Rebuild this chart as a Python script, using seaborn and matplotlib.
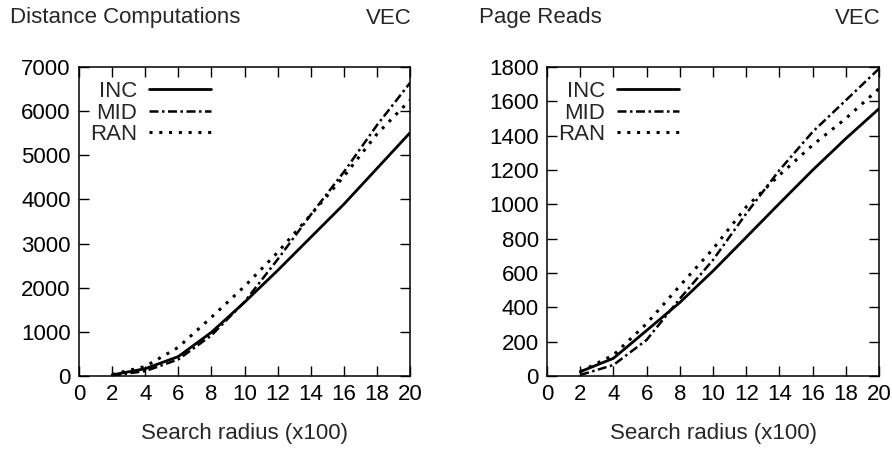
import numpy as np
import pandas as pd
import matplotlib
matplotlib.use("Agg")
import matplotlib.pyplot as plt
import seaborn as sns

radius = [2, 4, 6, 8, 10, 12, 14, 16, 18, 20]
series_names = ["INC", "MID", "RAN"]

dist_inc = [25, 165, 440, 990, 1670, 2390, 3140, 3890, 4700, 5510]
dist_mid = [10, 110, 375, 920, 1680, 2640, 3650, 4620, 5680, 6640]
dist_ran = [35, 215, 650, 1330, 2030, 2800, 3650, 4520, 5480, 6250]

page_inc = [25, 103, 265, 428, 612, 808, 1005, 1199, 1383, 1557]
page_mid = [6, 64, 210, 450, 676, 946, 1199, 1422, 1606, 1790]
page_ran = [25, 122, 305, 525, 740, 985, 1170, 1345, 1500, 1674]

xticks = list(range(0, 21, 2))
dist_yticks = list(range(0, 7001, 1000))
page_yticks = list(range(0, 1801, 200))

sns.set_theme(style="ticks")
plt.rcParams['font.family'] = ['Liberation Sans', 'DejaVu Sans']
FS = 16.0

fig = plt.figure(figsize=(8.92, 4.49), dpi=100)
W, H = 892, 449
ax1 = fig.add_axes([79 / W, 73 / H, 331 / W, 309 / H])
ax2 = fig.add_axes([547 / W, 73 / H, 332 / W, 309 / H])

styles = {
    "INC": dict(linestyle="-", lw=2.0),
    "MID": dict(linestyle=(0, (3.6, 1.4, 1.0, 1.4)), lw=1.8),
    "RAN": dict(linestyle=(0, (1.0, 2.2)), lw=2.2),
}

def draw(ax, vals, yticks):
    df = pd.DataFrame({
        "radius": radius * 3,
        "value": vals[0] + vals[1] + vals[2],
        "series": sum([[n] * len(radius) for n in series_names], []),
    })
    for name in series_names:
        sub = df[df["series"] == name]
        st = styles[name]
        sns.lineplot(data=sub, x="radius", y="value", ax=ax, color="black",
                     linestyle=st["linestyle"], lw=st["lw"], label=name,
                     estimator=None, sort=True)
    ax.set_xlim(0, 20)
    ax.set_ylim(yticks[0], yticks[-1])
    ax.set_xticks(xticks)
    ax.set_yticks(yticks)
    ax.tick_params(direction="in", length=7, width=1, top=True, right=True,
                   labelsize=FS, colors="black", pad=6)
    for s in ax.spines.values():
        s.set_visible(True)
        s.set_linewidth(1.1)
        s.set_color("black")
    ax.set_xlabel("Search radius (x100)", fontsize=FS, labelpad=13)
    ax.set_ylabel("")
    ax.grid(False)
    ax.legend(loc="upper left", frameon=False, markerfirst=False,
              fontsize=FS, handlelength=2.75, handletextpad=0.55,
              labelspacing=0.02, borderaxespad=0.1,
              bbox_to_anchor=(0.0, 0.99))

draw(ax1, [dist_inc, dist_mid, dist_ran], dist_yticks)
draw(ax2, [page_inc, page_mid, page_ran], page_yticks)

fig.text(10 / W, 1 - 18 / H, "Distance Computations", fontsize=FS, ha="left", va="center")
fig.text(412 / W, 1 - 18 / H, "VEC", fontsize=FS, ha="right", va="center")
fig.text(479 / W, 1 - 18 / H, "Page Reads", fontsize=FS, ha="left", va="center")
fig.text(881 / W, 1 - 18 / H, "VEC", fontsize=FS, ha="right", va="center")

fig.savefig("out.png", dpi=100, facecolor="white")
